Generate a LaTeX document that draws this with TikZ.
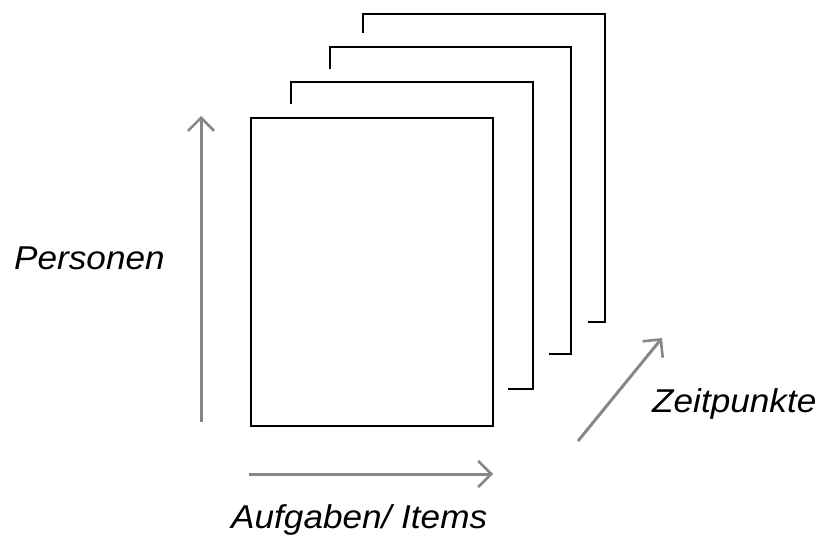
\documentclass[tikz,border=0pt]{standalone}
\usepackage{fontspec}
\setmainfont{Liberation Sans}
\usetikzlibrary{arrows.meta}
\definecolor{axisgray}{HTML}{878787}
\tikzset{
  sheet/.style={draw=black, line width=1.6pt},
  axis/.style={draw=axisgray, line width=3pt, -{Straight Barb[length=13pt, width=26pt, line width=2.6pt]}},
  lbl/.style={font=\fontsize{33}{36}\selectfont\itshape, anchor=base west, inner sep=0pt, xscale=1.065}
}
\begin{document}
\begin{tikzpicture}[x=1pt, y=-1pt]
  \useasboundingbox (0,0) rectangle (818,538);
  % back sheets (partial outlines)
  \draw[sheet] (363,33) -- (363,14) -- (605,14) -- (605,322) -- (588,322);
  \draw[sheet] (330,69) -- (330,47) -- (571,47) -- (571,354) -- (549,354);
  \draw[sheet] (291,104) -- (291,82) -- (533,82) -- (533,389) -- (508,389);
  % front sheet
  \node[sheet, fill=white, minimum width=242pt, minimum height=308pt, inner sep=0pt, anchor=north west] (front) at (250,117) {};
  % axes
  \coordinate (pS) at (201,422);
  \coordinate (pE) at (201,116);
  \coordinate (aS) at (249,474);
  \coordinate (aE) at (493,474);
  \coordinate (zS) at (578,441);
  \coordinate (zE) at (662,338);
  \draw[axis] (pS) -- (pE);
  \draw[axis] (aS) -- (aE);
  \draw[axis] (zS) -- (zE);
  % labels
  \node[lbl] (personen) at (14,269) {Personen};
  \node[lbl] (aufgaben) at (231,528) {Aufgaben/ Items};
  \node[lbl] (zeit) at (652,412) {Zeitpunkte};
\end{tikzpicture}
\end{document}
